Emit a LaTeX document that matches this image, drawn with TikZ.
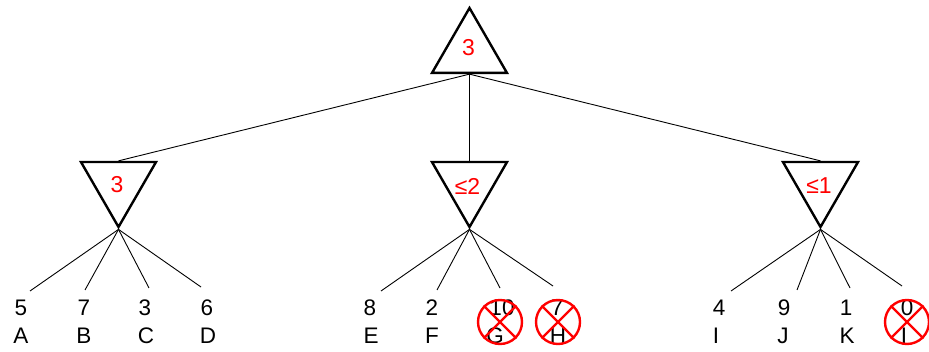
\documentclass[tikz,border=0pt]{standalone}
\usepackage{fontspec}
\setmainfont{Liberation Sans}
\usetikzlibrary{shapes.geometric}
\definecolor{valred}{RGB}{255,0,0}
\begin{document}
\begin{tikzpicture}[x=1pt,y=-1pt,
  tri/.style={regular polygon, regular polygon sides=3, draw=black, line width=2.4pt,
    minimum size=86.6pt, inner sep=0pt},
  mintri/.style={tri, shape border rotate=180},
  val/.style={text=valred, font=\fontsize{23}{23}\selectfont, inner sep=0pt},
  edge/.style={line width=0.9pt},
  leaf/.style={font=\fontsize{22.5}{22.5}\selectfont, inner sep=0pt},
  prune/.style={circle, draw=valred, line width=2.4pt, minimum size=44pt, inner sep=0pt},
  xline/.style={draw=valred, line width=2.4pt}
]
\useasboundingbox (0,0) rectangle (929,352);

% triangles
\node[tri] (root) at (469.5,51.3) {};
\node[mintri] (m1) at (118.5,183.7) {};
\node[mintri] (m2) at (469.5,183.7) {};
\node[mintri] (m3) at (820.5,183.7) {};
\node[val] (rootv) at (468.5,47.5) {3};
\node[val] (v1) at (117,185) {3};
\node[val] (v2) at (467.5,186) {≤2};
\node[val] (v3) at (819,186) {≤1};

% root edges
\draw[edge] (root.side 2) -- (m1.side 2);
\draw[edge] (root.side 2) -- (m2.side 2);
\draw[edge] (root.side 2) -- (m3.side 2);

% leaf values and labels
\foreach \n/\x/\v/\l/\lx in {a/21/5/A/21, b/84/7/B/84, c/145/3/C/146, d/207/6/D/208,
  e/370/8/E/371, f/432/2/F/432, g/502/10/G/495, h/557/7/H/558,
  i/719/4/I/716, j/784/9/J/783, k/846/1/K/847, l/907/0/I/904}{
  \node[leaf] (n\n) at (\x,308) {\v};
  \node[leaf] (t\n) at (\lx,336) {\l};
}

% leaf end points
\coordinate (ea) at (30,291);
\coordinate (eb) at (85,290);
\coordinate (ec) at (149,288);
\coordinate (ed) at (201,287);
\coordinate (ee) at (381,291);
\coordinate (ef) at (437,290);
\coordinate (eg) at (500,288);
\coordinate (eh) at (553,286);
\coordinate (ei) at (731,291);
\coordinate (ej) at (797,290);
\coordinate (ek) at (850,288);
\coordinate (el) at (902,286);

\foreach \e in {a,b,c,d}{\draw[edge] (m1.corner 1) -- (e\e);}
\foreach \e in {e,f,g,h}{\draw[edge] (m2.corner 1) -- (e\e);}
\foreach \e in {i,j,k,l}{\draw[edge] (m3.corner 1) -- (e\e);}

% pruned leaves
\foreach \c/\x in {pg/500, ph/558, pl/907}{
  \node[prune] (\c) at (\x,322) {};
  \draw[xline] (\c.north west) -- (\c.south east);
  \draw[xline] (\c.north east) -- (\c.south west);
}
\end{tikzpicture}
\end{document}
